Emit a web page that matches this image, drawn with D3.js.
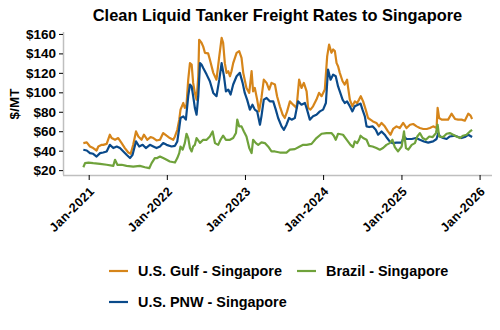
<!DOCTYPE html>
<html>
<head>
<meta charset="utf-8">
<script src="https://cdn.jsdelivr.net/npm/d3@7"></script>
<style>
html,body{margin:0;padding:0;background:#fff;}
svg{display:block;font-family:"Liberation Sans",Arial,sans-serif;}
</style>
</head>
<body>
<svg id="chart" width="500" height="330"></svg>
<script>
const chartTitle = "Clean Liquid Tanker Freight Rates to Singapore";
const yAxisTitle = "$/MT";
const seriesNames = ["U.S. Gulf - Singapore", "Brazil - Singapore", "U.S. PNW - Singapore"];
const yTickValues = [20, 40, 60, 80, 100, 120, 140, 160];
const xTickLabels = ["Jan-2021", "Jan-2022", "Jan-2023", "Jan-2024", "Jan-2025", "Jan-2026"];

const gulfDates = ["2020-12-07","2020-12-23","2021-01-07","2021-01-22","2021-02-07","2021-02-15","2021-03-03","2021-03-10","2021-03-26","2021-04-10","2021-04-18","2021-05-04","2021-05-19","2021-06-04","2021-06-19","2021-07-05","2021-07-16","2021-07-28","2021-08-10","2021-08-21","2021-09-05","2021-09-16","2021-10-02","2021-10-17","2021-10-30","2021-11-14","2021-11-30","2021-12-15","2021-12-31","2022-01-15","2022-01-31","2022-02-08","2022-02-19","2022-02-28","2022-03-06","2022-03-19","2022-03-26","2022-04-03","2022-04-11","2022-04-19","2022-04-27","2022-05-04","2022-05-12","2022-05-20","2022-05-28","2022-06-01","2022-06-12","2022-06-20","2022-06-28","2022-07-13","2022-07-21","2022-08-06","2022-08-21","2022-09-03","2022-09-14","2022-09-21","2022-09-29","2022-10-07","2022-10-15","2022-10-23","2022-10-30","2022-11-07","2022-11-23","2022-12-05","2022-12-16","2022-12-24","2023-01-08","2023-01-21","2023-02-01","2023-02-08","2023-02-16","2023-02-27","2023-03-08","2023-03-19","2023-03-30","2023-04-12","2023-04-24","2023-05-05","2023-05-21","2023-05-31","2023-06-13","2023-06-26","2023-07-06","2023-07-17","2023-07-30","2023-08-14","2023-08-30","2023-09-11","2023-09-22","2023-10-03","2023-10-16","2023-10-23","2023-11-03","2023-11-15","2023-12-01","2023-12-13","2023-12-25","2024-01-09","2024-01-20","2024-01-29","2024-02-09","2024-02-17","2024-02-25","2024-03-04","2024-03-11","2024-03-19","2024-04-01","2024-04-11","2024-04-22","2024-04-27","2024-05-05","2024-05-17","2024-05-28","2024-06-08","2024-06-17","2024-06-25","2024-07-06","2024-07-18","2024-07-29","2024-08-09","2024-08-21","2024-09-06","2024-09-18","2024-09-30","2024-10-15","2024-10-30","2024-11-11","2024-11-23","2024-12-09","2024-12-24","2025-01-09","2025-01-25","2025-02-10","2025-02-25","2025-03-13","2025-03-28","2025-04-13","2025-04-29","2025-05-14","2025-05-29","2025-06-14","2025-06-19","2025-06-26","2025-07-08","2025-07-23","2025-08-07","2025-08-23","2025-09-08","2025-09-23","2025-10-09","2025-10-24","2025-11-09","2025-11-20","2025-11-27"];
const gulfRates = [47.8,48.5,44.3,42.7,40.2,44.3,46,46,47,56.4,53,51.2,53,47.8,42.7,38.1,36.8,46,59.8,54.6,51.2,56.4,51.2,54,53,50.5,51.2,58.1,55.4,53,51.2,54.6,61.5,71.9,82.2,89,84,87.3,113,130,128.6,109.7,99.4,92.5,116.5,154,151,147,140.6,140,133.7,120,113,137,156,151,130,120,121.7,116.5,121.7,130,140.6,142.3,135.5,120,104.5,99.4,121.7,101,104.5,92.5,80.4,94.2,113,109.7,102.8,109.7,108,96,85.6,77,73.6,80.4,90.7,87.3,84,113,104.5,109.7,101,84,82.2,85.6,92.5,99.4,96,102.8,137,149,140.6,144,142.3,130,126.8,120,111.4,108,113,104.5,92.5,85.6,90.7,89,92.5,96,90.7,82.2,73.6,71.9,70.1,68.5,65,68.5,65,59.8,56.4,62.3,65,63.3,68.5,63.3,66.7,67.4,65,63.3,62.3,62.3,63.3,65,63.3,84,73.6,71.9,71.9,71.9,78,72.6,71.9,71.9,70.8,78,76,72.6];

const pnwDates = ["2020-12-07","2020-12-23","2021-01-07","2021-01-22","2021-02-07","2021-02-23","2021-03-10","2021-03-26","2021-04-10","2021-04-26","2021-05-12","2021-05-27","2021-06-12","2021-06-27","2021-07-13","2021-07-25","2021-08-10","2021-08-25","2021-09-10","2021-09-25","2021-10-14","2021-10-30","2021-11-14","2021-11-30","2021-12-15","2021-12-31","2022-01-23","2022-02-08","2022-02-19","2022-02-28","2022-03-06","2022-03-19","2022-03-31","2022-04-11","2022-04-19","2022-04-27","2022-05-04","2022-05-12","2022-05-20","2022-05-28","2022-06-05","2022-06-12","2022-06-20","2022-07-06","2022-07-21","2022-08-06","2022-08-21","2022-09-03","2022-09-14","2022-09-25","2022-10-04","2022-10-15","2022-10-26","2022-11-07","2022-11-23","2022-12-08","2022-12-21","2022-12-31","2023-01-11","2023-01-24","2023-02-05","2023-02-16","2023-02-27","2023-03-12","2023-03-19","2023-03-30","2023-04-12","2023-04-27","2023-05-13","2023-05-25","2023-06-05","2023-06-21","2023-07-02","2023-07-14","2023-07-26","2023-08-07","2023-08-22","2023-09-06","2023-09-22","2023-10-08","2023-10-18","2023-10-31","2023-11-15","2023-12-01","2023-12-17","2024-01-01","2024-01-14","2024-01-24","2024-02-05","2024-02-17","2024-02-29","2024-03-11","2024-03-19","2024-04-01","2024-04-11","2024-04-22","2024-05-05","2024-05-17","2024-05-28","2024-06-12","2024-06-24","2024-07-03","2024-07-14","2024-07-22","2024-08-03","2024-08-19","2024-09-03","2024-09-14","2024-09-30","2024-10-15","2024-10-26","2024-11-07","2024-11-20","2024-12-09","2025-01-02","2025-01-13","2025-01-25","2025-02-18","2025-03-10","2025-03-28","2025-04-16","2025-05-06","2025-05-29","2025-06-14","2025-06-22","2025-06-30","2025-07-15","2025-07-31","2025-08-15","2025-09-08","2025-09-23","2025-10-09","2025-10-24","2025-11-09","2025-11-27"];
const pnwRates = [41,40.2,37.5,36.8,34,37.5,38.1,39.2,46,42.7,44.3,42.7,39.2,35.8,32.4,35.8,49.5,44.3,46,42.7,46,44.3,42.7,44.3,47.8,46,44.3,45,49.5,63.3,73.6,75.3,71.9,96,108,106,96,84,77,96,130,128.6,125,118.2,111.4,99.4,96,113,130,116.5,101,102.8,97.7,108,116.5,120,109.7,99.4,92.5,82.2,87.3,82.2,80.4,66.7,75.3,92.5,94.2,90.7,90.7,82.2,73.6,65,61.5,66.7,73.6,71.9,73.6,90.7,87.3,89,82.2,71.9,75.3,77,80.4,82.2,89,123.4,113,118.2,116.5,106,101,92.5,89,90.7,85.6,80.4,85.6,87.3,88.4,82.2,75.3,65,64.3,65,61.5,56.4,59.8,56.4,53,49.5,47.8,48.3,48.3,54.6,52,52,53,51.2,49.5,48.3,49.5,52,58.1,54.6,53,52,54.6,55.4,54,53,54,56.4,54];

const brazilDates = ["2020-12-07","2020-12-15","2020-12-31","2021-01-22","2021-02-23","2021-03-26","2021-04-26","2021-05-04","2021-05-15","2021-06-04","2021-06-27","2021-07-28","2021-08-28","2021-09-21","2021-10-11","2021-10-22","2021-11-06","2021-11-17","2021-11-30","2021-12-15","2021-12-31","2022-01-15","2022-02-08","2022-02-19","2022-02-28","2022-03-06","2022-03-16","2022-03-26","2022-04-03","2022-04-11","2022-04-19","2022-04-27","2022-05-04","2022-05-12","2022-05-20","2022-06-05","2022-06-20","2022-07-06","2022-07-21","2022-08-03","2022-08-14","2022-08-29","2022-09-09","2022-09-21","2022-10-04","2022-10-23","2022-11-07","2022-11-20","2022-11-26","2022-12-05","2022-12-16","2022-12-27","2023-01-08","2023-01-21","2023-02-01","2023-02-08","2023-02-21","2023-03-04","2023-03-19","2023-04-04","2023-04-19","2023-05-05","2023-05-21","2023-06-13","2023-07-14","2023-07-30","2023-08-22","2023-09-14","2023-09-30","2023-10-16","2023-11-08","2023-12-01","2023-12-25","2024-01-17","2024-02-09","2024-02-20","2024-02-29","2024-03-11","2024-04-03","2024-04-19","2024-05-08","2024-05-20","2024-05-28","2024-06-08","2024-06-17","2024-06-24","2024-07-06","2024-07-22","2024-08-03","2024-08-19","2024-09-06","2024-09-22","2024-10-07","2024-10-23","2024-11-07","2024-11-20","2024-12-01","2024-12-16","2025-01-02","2025-01-13","2025-01-22","2025-02-02","2025-02-18","2025-03-05","2025-03-16","2025-03-28","2025-04-10","2025-04-25","2025-05-11","2025-05-27","2025-06-11","2025-06-19","2025-06-26","2025-07-15","2025-07-31","2025-08-15","2025-09-08","2025-10-01","2025-10-16","2025-11-01","2025-11-17","2025-11-27"];
const brazilRates = [23,27.2,27.8,27.2,26.5,25.5,24.4,30.6,25.5,25.5,24.4,23.7,24.4,23,22,27.2,32.4,32.4,34,32.4,30.6,28.9,27.8,32.4,37.5,44.3,41,47.8,57.4,53,42.7,39.2,44.3,46,53,48,51.2,51.2,54.6,59.8,47.8,46,51.2,55.4,51.2,51.2,53,58.1,71.9,65,65,59.8,54.6,42.7,37.5,51.2,47.8,46,48.5,47.8,44.3,39.2,39.2,38.1,38.1,41,41.6,44.3,46,46,47,53,57.4,58.1,58.1,55.4,51.2,57.4,56.4,51.6,46,43.7,49.5,47.8,51.2,55.4,53,51.2,45,44.3,42.7,41,42.7,46,47.8,51.2,43.7,39.2,44.3,59.8,42.7,41,46,47.8,54.6,58.1,53,51.2,54.6,54,58.1,66.7,54.6,54,57.4,58.1,55.4,53,55.4,56.4,59.8,61.5];

const colors = {gulf: "#d6851a", brazil: "#6fa23b", pnw: "#0a4a8a"};

const parse = d3.timeParse("%Y-%m-%d");
const zip = (ds, vs) => ds.map((d, i) => ({date: parse(d), value: vs[i]})).filter(p => p.value != null);
const series = [
  {name: seriesNames[0], color: colors.gulf, data: zip(gulfDates, gulfRates)},
  {name: seriesNames[2], color: colors.pnw, data: zip(pnwDates, pnwRates)},
  {name: seriesNames[1], color: colors.brazil, data: zip(brazilDates, brazilRates)}
];

const svg = d3.select("#chart");
const plotL = 63, plotR = 492, plotT = 32, plotB = 175;
const fontFam = "\"Liberation Sans\",Arial,sans-serif";

const x = d3.scaleTime()
  .domain([parse("2020-09-03"), parse("2026-02-28")])
  .range([plotL, plotR]);
const y = d3.scaleLinear().domain([15, 162]).range([plotB, plotT]);

// title
svg.append("text")
  .attr("x", 277.5).attr("y", 21)
  .attr("text-anchor", "middle")
  .attr("font-size", 16.4).attr("font-weight", "bold")
  .attr("fill", "#000")
  .text(chartTitle);

// y axis
const yAxis = svg.append("g")
  .attr("transform", `translate(${plotL},0)`)
  .call(d3.axisLeft(y).tickValues(yTickValues).tickSize(4).tickPadding(3).tickFormat(d => "$" + d));
yAxis.select(".domain").attr("stroke", "#bfbfbf").attr("stroke-width", 1.5).attr("d", `M0.5,${plotT}V${plotB}`);
yAxis.selectAll(".tick line").attr("stroke", "#000");
yAxis.selectAll(".tick text").attr("font-size", 13.5).attr("font-weight", "bold").attr("fill", "#000")
  .attr("font-family", fontFam);

// y title
svg.append("text")
  .attr("transform", "translate(19,104) rotate(-90)")
  .attr("text-anchor", "middle")
  .attr("font-size", 13.5).attr("font-weight", "bold")
  .text(yAxisTitle);

// x axis
const yearTicks = xTickLabels.map(s => d3.timeParse("%b-%Y")(s));
const xAxis = svg.append("g")
  .attr("transform", `translate(0,${plotB})`)
  .call(d3.axisBottom(x).tickValues(yearTicks).tickSize(5).tickFormat((d, i) => xTickLabels[i]));
xAxis.select(".domain").attr("stroke", "#bfbfbf").attr("stroke-width", 1.5).attr("d", `M${plotL},0.5H${plotR}`);
xAxis.selectAll(".tick line").attr("stroke", "#000");
xAxis.selectAll(".tick text")
  .attr("font-size", 12.5).attr("font-weight", "bold").attr("fill", "#000")
  .attr("font-family", fontFam)
  .attr("letter-spacing", 0.5)
  .attr("text-anchor", "end")
  .attr("dy", null).attr("y", 0)
  .attr("transform", "translate(6,17) rotate(-45)");

// lines
const line = d3.line().x(d => x(d.date)).y(d => y(d.value));
svg.append("g").selectAll("path").data(series).join("path")
  .attr("fill", "none")
  .attr("stroke", d => d.color)
  .attr("stroke-width", 2.2)
  .attr("stroke-linejoin", "round")
  .attr("d", d => line(d.data));

// legend
const legendItems = [
  {name: seriesNames[0], color: colors.gulf, lx: 109, ly: 271},
  {name: seriesNames[1], color: colors.brazil, lx: 297, ly: 271},
  {name: seriesNames[2], color: colors.pnw, lx: 109, ly: 302}
];
const lg = svg.append("g").selectAll("g").data(legendItems).join("g")
  .attr("transform", d => `translate(${d.lx},${d.ly})`);
lg.append("line").attr("x1", 0).attr("x2", 19).attr("y1", 0).attr("y2", 0)
  .attr("stroke", d => d.color).attr("stroke-width", 2.2);
lg.append("text").attr("x", 29).attr("y", 5)
  .attr("font-size", 14.4).attr("font-weight", "bold").attr("fill", "#000")
  .text(d => d.name);
</script>
</body>
</html>
